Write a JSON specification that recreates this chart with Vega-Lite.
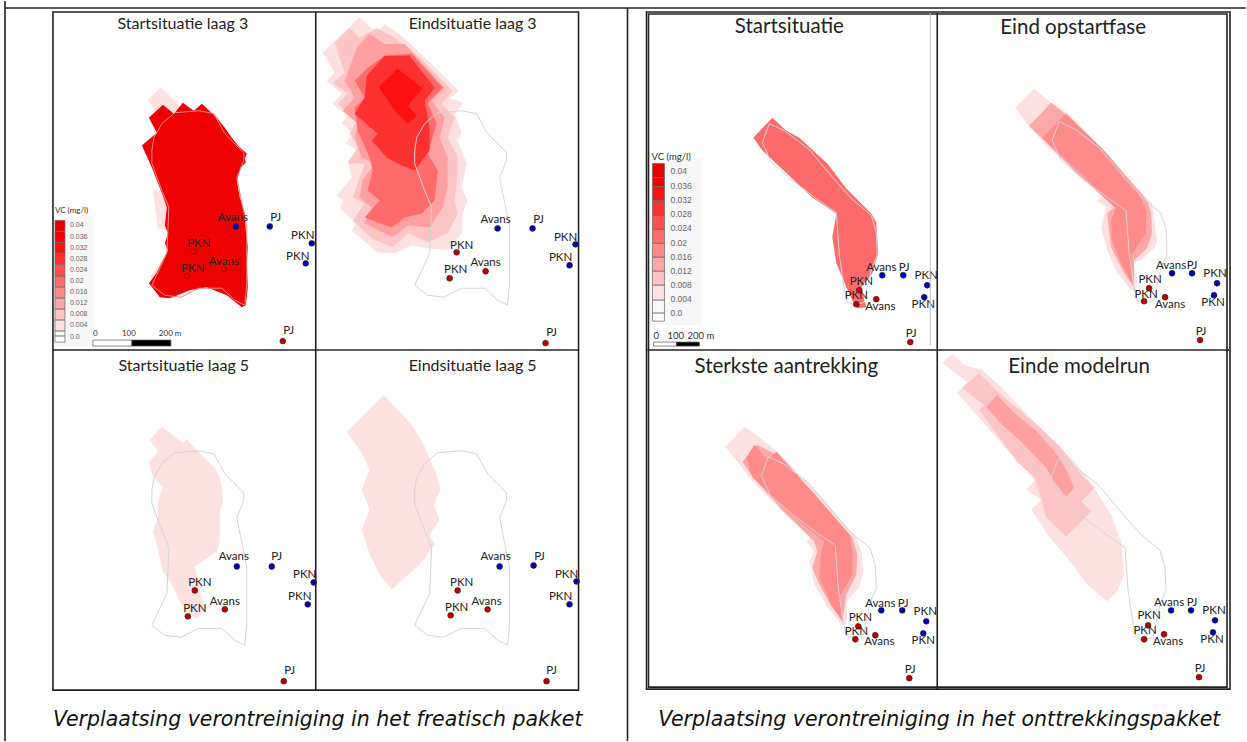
{"$schema":"https://vega.github.io/schema/vega-lite/v6.json","width":1247,"height":742,"autosize":{"type":"fit","contains":"padding"},"padding":0,"background":"white","config":{"view":{"stroke":null}},"resolve":{"scale":{"fill":"independent"}},
"encoding":{"x":{"field":"x","type":"quantitative","scale":{"domain":[0,1247],"nice":false,"zero":false},"axis":null},"y":{"field":"y","type":"quantitative","scale":{"domain":[742,0],"nice":false,"zero":false},"axis":null}},
"datasets":{
"c1":[{"g":"a","x":148,"y":99},{"g":"a","x":161,"y":87},{"g":"a","x":172,"y":97},{"g":"a","x":182,"y":107},{"g":"a","x":160,"y":117},{"g":"b","x":153,"y":190},{"g":"b","x":165,"y":190},{"g":"b","x":170,"y":230},{"g":"b","x":158,"y":228},{"g":"b2","x":150,"y":277},{"g":"b2","x":166,"y":255},{"g":"b2","x":166,"y":280},
{"g":"c","x":360,"y":16},{"g":"c","x":377,"y":32},{"g":"c","x":385,"y":23},{"g":"c","x":402,"y":35},{"g":"c","x":415,"y":47},{"g":"c","x":459,"y":90},{"g":"c","x":450,"y":98},{"g":"c","x":464,"y":102},{"g":"c","x":455,"y":113},{"g":"c","x":462,"y":132},{"g":"c","x":458,"y":140},{"g":"c","x":467,"y":163},{"g":"c","x":462,"y":187},{"g":"c","x":468,"y":200},{"g":"c","x":463,"y":213},{"g":"c","x":462,"y":233},{"g":"c","x":448,"y":250},{"g":"c","x":428,"y":248},{"g":"c","x":412,"y":245},{"g":"c","x":395,"y":253},{"g":"c","x":378,"y":252},{"g":"c","x":352,"y":230},{"g":"c","x":357,"y":222},{"g":"c","x":340,"y":208},{"g":"c","x":343,"y":200},{"g":"c","x":337,"y":195},{"g":"c","x":352,"y":177},{"g":"c","x":348,"y":160},{"g":"c","x":358,"y":150},{"g":"c","x":346,"y":143},{"g":"c","x":353,"y":133},{"g":"c","x":342,"y":122},{"g":"c","x":348,"y":115},{"g":"c","x":333,"y":103},{"g":"c","x":342,"y":93},{"g":"c","x":327,"y":80},{"g":"c","x":335,"y":72},{"g":"c","x":323,"y":52},{"g":"c","x":335,"y":40},
{"g":"d","x":150,"y":440},{"g":"d","x":162,"y":427},{"g":"d","x":183,"y":443},{"g":"d","x":187,"y":440},{"g":"d","x":216,"y":470},{"g":"d","x":220,"y":478},{"g":"d","x":222,"y":488},{"g":"d","x":223,"y":502},{"g":"d","x":220,"y":512},{"g":"d","x":220,"y":542},{"g":"d","x":217,"y":552},{"g":"d","x":195,"y":567},{"g":"d","x":203,"y":603},{"g":"d","x":205,"y":610},{"g":"d","x":197,"y":620},{"g":"d","x":187,"y":612},{"g":"d","x":180,"y":602},{"g":"d","x":172,"y":585},{"g":"d","x":163,"y":572},{"g":"d","x":157,"y":545},{"g":"d","x":153,"y":532},{"g":"d","x":158,"y":518},{"g":"d","x":158,"y":502},{"g":"d","x":163,"y":488},{"g":"d","x":152,"y":475},{"g":"d","x":149,"y":462},{"g":"d","x":158,"y":452},
{"g":"e","x":347,"y":432},{"g":"e","x":384,"y":395},{"g":"e","x":412,"y":425},{"g":"e","x":424,"y":445},{"g":"e","x":435,"y":470},{"g":"e","x":441,"y":490},{"g":"e","x":434,"y":505},{"g":"e","x":440,"y":520},{"g":"e","x":430,"y":535},{"g":"e","x":435,"y":545},{"g":"e","x":420,"y":565},{"g":"e","x":392,"y":590},{"g":"e","x":380,"y":575},{"g":"e","x":370,"y":555},{"g":"e","x":362,"y":530},{"g":"e","x":370,"y":510},{"g":"e","x":362,"y":490},{"g":"e","x":370,"y":470},{"g":"e","x":360,"y":450},
{"g":"f","x":1035,"y":88},{"g":"f","x":1052,"y":102},{"g":"f","x":1068,"y":112},{"g":"f","x":1102,"y":147},{"g":"f","x":1122,"y":170},{"g":"f","x":1153,"y":203},{"g":"f","x":1155,"y":217},{"g":"f","x":1158,"y":240},{"g":"f","x":1155,"y":248},{"g":"f","x":1142,"y":260},{"g":"f","x":1133,"y":263},{"g":"f","x":1138,"y":277},{"g":"f","x":1137,"y":292},{"g":"f","x":1132,"y":290},{"g":"f","x":1118,"y":272},{"g":"f","x":1108,"y":250},{"g":"f","x":1102,"y":227},{"g":"f","x":1107,"y":207},{"g":"f","x":1098,"y":200},{"g":"f","x":1105,"y":195},{"g":"f","x":1082,"y":177},{"g":"f","x":1045,"y":143},{"g":"f","x":1029,"y":125},{"g":"f","x":1016,"y":107},
{"g":"h","x":745,"y":427},{"g":"h","x":762,"y":439},{"g":"h","x":778,"y":452},{"g":"h","x":820,"y":495},{"g":"h","x":857,"y":538},{"g":"h","x":862,"y":552},{"g":"h","x":864,"y":572},{"g":"h","x":860,"y":588},{"g":"h","x":847,"y":602},{"g":"h","x":848,"y":612},{"g":"h","x":847,"y":625},{"g":"h","x":842,"y":625},{"g":"h","x":828,"y":608},{"g":"h","x":815,"y":585},{"g":"h","x":810,"y":562},{"g":"h","x":815,"y":552},{"g":"h","x":807,"y":542},{"g":"h","x":813,"y":535},{"g":"h","x":783,"y":512},{"g":"h","x":750,"y":478},{"g":"h","x":738,"y":462},{"g":"h","x":726,"y":447},
{"g":"i","x":953,"y":354},{"g":"i","x":965,"y":365},{"g":"i","x":983,"y":370},{"g":"i","x":1003,"y":388},{"g":"i","x":1038,"y":425},{"g":"i","x":1078,"y":465},{"g":"i","x":1095,"y":488},{"g":"i","x":1112,"y":515},{"g":"i","x":1122,"y":542},{"g":"i","x":1125,"y":575},{"g":"i","x":1118,"y":592},{"g":"i","x":1108,"y":602},{"g":"i","x":1088,"y":585},{"g":"i","x":1068,"y":558},{"g":"i","x":1048,"y":535},{"g":"i","x":1042,"y":525},{"g":"i","x":1032,"y":510},{"g":"i","x":1042,"y":500},{"g":"i","x":1027,"y":490},{"g":"i","x":1038,"y":478},{"g":"i","x":1023,"y":467},{"g":"i","x":958,"y":393},{"g":"i","x":968,"y":382},{"g":"i","x":943,"y":363}],
"c2":[{"g":"a","x":350,"y":27},{"g":"a","x":360,"y":37},{"g":"a","x":377,"y":27},{"g":"a","x":395,"y":37},{"g":"a","x":415,"y":52},{"g":"a","x":453,"y":90},{"g":"a","x":442,"y":103},{"g":"a","x":455,"y":117},{"g":"a","x":448,"y":137},{"g":"a","x":458,"y":157},{"g":"a","x":458,"y":173},{"g":"a","x":455,"y":200},{"g":"a","x":458,"y":213},{"g":"a","x":448,"y":233},{"g":"a","x":428,"y":242},{"g":"a","x":408,"y":233},{"g":"a","x":393,"y":247},{"g":"a","x":372,"y":238},{"g":"a","x":353,"y":220},{"g":"a","x":365,"y":203},{"g":"a","x":353,"y":197},{"g":"a","x":365,"y":163},{"g":"a","x":348,"y":163},{"g":"a","x":358,"y":147},{"g":"a","x":350,"y":133},{"g":"a","x":357,"y":120},{"g":"a","x":338,"y":103},{"g":"a","x":348,"y":93},{"g":"a","x":333,"y":82},{"g":"a","x":345,"y":72},{"g":"a","x":335,"y":42},
{"g":"b","x":963,"y":388},{"g":"b","x":980,"y":373},{"g":"b","x":1002,"y":395},{"g":"b","x":1038,"y":425},{"g":"b","x":1062,"y":448},{"g":"b","x":1082,"y":475},{"g":"b","x":1095,"y":488},{"g":"b","x":1082,"y":502},{"g":"b","x":1092,"y":512},{"g":"b","x":1067,"y":537},{"g":"b","x":1047,"y":518},{"g":"b","x":1042,"y":498},{"g":"b","x":1035,"y":478},{"g":"b","x":1018,"y":462},{"g":"b","x":980,"y":410},{"g":"b","x":985,"y":405}],
"c3":[{"g":"a","x":357,"y":47},{"g":"a","x":370,"y":33},{"g":"a","x":385,"y":43},{"g":"a","x":405,"y":43},{"g":"a","x":445,"y":87},{"g":"a","x":432,"y":100},{"g":"a","x":445,"y":117},{"g":"a","x":440,"y":137},{"g":"a","x":448,"y":157},{"g":"a","x":448,"y":187},{"g":"a","x":443,"y":207},{"g":"a","x":430,"y":227},{"g":"a","x":408,"y":225},{"g":"a","x":393,"y":237},{"g":"a","x":365,"y":223},{"g":"a","x":372,"y":207},{"g":"a","x":360,"y":197},{"g":"a","x":363,"y":180},{"g":"a","x":375,"y":163},{"g":"a","x":362,"y":157},{"g":"a","x":355,"y":137},{"g":"a","x":358,"y":123},{"g":"a","x":343,"y":110},{"g":"a","x":355,"y":97},{"g":"a","x":345,"y":80},
{"g":"b","x":987,"y":407},{"g":"b","x":998,"y":395},{"g":"b","x":1015,"y":413},{"g":"b","x":1038,"y":432},{"g":"b","x":1058,"y":455},{"g":"b","x":1068,"y":472},{"g":"b","x":1075,"y":488},{"g":"b","x":1067,"y":497},{"g":"b","x":1055,"y":482},{"g":"b","x":1047,"y":468},{"g":"b","x":1022,"y":442},{"g":"b","x":1003,"y":425}],
"c4":[{"g":"a","x":1052,"y":102},{"g":"a","x":1068,"y":115},{"g":"a","x":1108,"y":153},{"g":"a","x":1148,"y":200},{"g":"a","x":1152,"y":213},{"g":"a","x":1153,"y":233},{"g":"a","x":1148,"y":248},{"g":"a","x":1135,"y":260},{"g":"a","x":1135,"y":273},{"g":"a","x":1135,"y":287},{"g":"a","x":1125,"y":273},{"g":"a","x":1112,"y":247},{"g":"a","x":1110,"y":230},{"g":"a","x":1108,"y":213},{"g":"a","x":1115,"y":207},{"g":"a","x":1108,"y":200},{"g":"a","x":1082,"y":177},{"g":"a","x":1045,"y":140},{"g":"a","x":1030,"y":125},
{"g":"b","x":758,"y":445},{"g":"b","x":777,"y":455},{"g":"b","x":817,"y":497},{"g":"b","x":853,"y":538},{"g":"b","x":858,"y":555},{"g":"b","x":857,"y":575},{"g":"b","x":847,"y":595},{"g":"b","x":843,"y":622},{"g":"b","x":832,"y":607},{"g":"b","x":820,"y":585},{"g":"b","x":813,"y":568},{"g":"b","x":818,"y":552},{"g":"b","x":815,"y":542},{"g":"b","x":787,"y":515},{"g":"b","x":753,"y":477},{"g":"b","x":743,"y":462}],
"c5":[{"g":"a","x":1067,"y":113},{"g":"a","x":1102,"y":147},{"g":"a","x":1142,"y":197},{"g":"a","x":1147,"y":210},{"g":"a","x":1147,"y":233},{"g":"a","x":1132,"y":255},{"g":"a","x":1133,"y":283},{"g":"a","x":1122,"y":263},{"g":"a","x":1113,"y":240},{"g":"a","x":1112,"y":220},{"g":"a","x":1117,"y":207},{"g":"a","x":1105,"y":197},{"g":"a","x":1082,"y":173},{"g":"a","x":1043,"y":137},
{"g":"b","x":755,"y":445},{"g":"b","x":768,"y":460},{"g":"b","x":777,"y":452},{"g":"b","x":813,"y":492},{"g":"b","x":850,"y":535},{"g":"b","x":853,"y":552},{"g":"b","x":853,"y":575},{"g":"b","x":840,"y":598},{"g":"b","x":843,"y":622},{"g":"b","x":832,"y":605},{"g":"b","x":820,"y":578},{"g":"b","x":822,"y":552},{"g":"b","x":825,"y":542},{"g":"b","x":788,"y":512},{"g":"b","x":753,"y":477},{"g":"b","x":747,"y":458}],
"c6":[{"g":"a","x":368,"y":67},{"g":"a","x":385,"y":55},{"g":"a","x":412,"y":53},{"g":"a","x":443,"y":87},{"g":"a","x":428,"y":102},{"g":"a","x":437,"y":123},{"g":"a","x":428,"y":153},{"g":"a","x":438,"y":170},{"g":"a","x":435,"y":200},{"g":"a","x":422,"y":213},{"g":"a","x":405,"y":217},{"g":"a","x":392,"y":227},{"g":"a","x":365,"y":217},{"g":"a","x":380,"y":200},{"g":"a","x":368,"y":190},{"g":"a","x":373,"y":170},{"g":"a","x":370,"y":157},{"g":"a","x":358,"y":130},{"g":"a","x":355,"y":107},{"g":"a","x":365,"y":97},{"g":"a","x":355,"y":80},
{"g":"b","x":754,"y":137},{"g":"b","x":773,"y":117},{"g":"b","x":787,"y":130},{"g":"b","x":800,"y":137},{"g":"b","x":828,"y":163},{"g":"b","x":847,"y":188},{"g":"b","x":872,"y":213},{"g":"b","x":877,"y":222},{"g":"b","x":879,"y":253},{"g":"b","x":873,"y":273},{"g":"b","x":862,"y":287},{"g":"b","x":867,"y":307},{"g":"b","x":858,"y":308},{"g":"b","x":853,"y":300},{"g":"b","x":847,"y":287},{"g":"b","x":837,"y":263},{"g":"b","x":833,"y":237},{"g":"b","x":837,"y":213},{"g":"b","x":813,"y":197},{"g":"b","x":763,"y":150}],
"c7":[{"g":"a","x":367,"y":75},{"g":"a","x":385,"y":55},{"g":"a","x":410,"y":55},{"g":"a","x":435,"y":87},{"g":"a","x":425,"y":100},{"g":"a","x":430,"y":128},{"g":"a","x":430,"y":150},{"g":"a","x":415,"y":170},{"g":"a","x":402,"y":165},{"g":"a","x":387,"y":157},{"g":"a","x":372,"y":140},{"g":"a","x":378,"y":133},{"g":"a","x":355,"y":113},{"g":"a","x":365,"y":97}],
"c8":[{"g":"a","x":379,"y":86},{"g":"a","x":398,"y":68},{"g":"a","x":423,"y":88},{"g":"a","x":408,"y":105},{"g":"a","x":417,"y":115},{"g":"a","x":408,"y":123},{"g":"a","x":395,"y":110}],
"c9":[{"g":"a","x":149,"y":117},{"g":"a","x":163,"y":104},{"g":"a","x":174,"y":113},{"g":"a","x":183,"y":102},{"g":"a","x":194,"y":110},{"g":"a","x":202,"y":103},{"g":"a","x":217,"y":117},{"g":"a","x":225,"y":127},{"g":"a","x":232,"y":137},{"g":"a","x":239,"y":146},{"g":"a","x":247,"y":153},{"g":"a","x":245,"y":158},{"g":"a","x":246,"y":162},{"g":"a","x":241,"y":167},{"g":"a","x":239,"y":174},{"g":"a","x":237,"y":180},{"g":"a","x":240,"y":197},{"g":"a","x":245,"y":213},{"g":"a","x":246,"y":230},{"g":"a","x":248,"y":247},{"g":"a","x":247,"y":262},{"g":"a","x":248,"y":287},{"g":"a","x":246,"y":305},{"g":"a","x":242,"y":307},{"g":"a","x":227,"y":295},{"g":"a","x":207,"y":287},{"g":"a","x":190,"y":290},{"g":"a","x":170,"y":298},{"g":"a","x":160,"y":297},{"g":"a","x":149,"y":283},{"g":"a","x":157,"y":272},{"g":"a","x":163,"y":260},{"g":"a","x":168,"y":250},{"g":"a","x":165,"y":243},{"g":"a","x":168,"y":233},{"g":"a","x":165,"y":225},{"g":"a","x":167,"y":207},{"g":"a","x":163,"y":195},{"g":"a","x":157,"y":180},{"g":"a","x":152,"y":167},{"g":"a","x":142,"y":145},{"g":"a","x":157,"y":132}],
"outline":[{"g":"2","x":415,"y":150},{"g":"2","x":417,"y":137},{"g":"2","x":425,"y":123},{"g":"2","x":438,"y":112},{"g":"2","x":462,"y":110},{"g":"2","x":477,"y":113},{"g":"2","x":488,"y":133},{"g":"2","x":507,"y":152},{"g":"2","x":507,"y":160},{"g":"2","x":500,"y":177},{"g":"2","x":510,"y":227},{"g":"2","x":510,"y":283},{"g":"2","x":508,"y":305},{"g":"2","x":498,"y":300},{"g":"2","x":485,"y":288},{"g":"2","x":462,"y":288},{"g":"2","x":444,"y":297},{"g":"2","x":428,"y":295},{"g":"2","x":415,"y":285},{"g":"2","x":430,"y":253},{"g":"2","x":432,"y":207},{"g":"2","x":425,"y":190},{"g":"2","x":415,"y":163},{"g":"2","x":415,"y":150},
{"g":"3","x":152,"y":491},{"g":"3","x":154,"y":478},{"g":"3","x":162,"y":464},{"g":"3","x":175,"y":453},{"g":"3","x":199,"y":451},{"g":"3","x":214,"y":454},{"g":"3","x":225,"y":474},{"g":"3","x":244,"y":493},{"g":"3","x":244,"y":501},{"g":"3","x":237,"y":518},{"g":"3","x":247,"y":568},{"g":"3","x":247,"y":624},{"g":"3","x":245,"y":646},{"g":"3","x":235,"y":641},{"g":"3","x":222,"y":629},{"g":"3","x":199,"y":629},{"g":"3","x":181,"y":638},{"g":"3","x":165,"y":636},{"g":"3","x":152,"y":626},{"g":"3","x":167,"y":594},{"g":"3","x":169,"y":548},{"g":"3","x":162,"y":531},{"g":"3","x":152,"y":504},{"g":"3","x":152,"y":491},
{"g":"4","x":415,"y":491},{"g":"4","x":417,"y":478},{"g":"4","x":425,"y":464},{"g":"4","x":438,"y":453},{"g":"4","x":462,"y":451},{"g":"4","x":477,"y":454},{"g":"4","x":488,"y":474},{"g":"4","x":507,"y":493},{"g":"4","x":507,"y":501},{"g":"4","x":500,"y":518},{"g":"4","x":510,"y":568},{"g":"4","x":510,"y":624},{"g":"4","x":508,"y":646},{"g":"4","x":498,"y":641},{"g":"4","x":485,"y":629},{"g":"4","x":462,"y":629},{"g":"4","x":444,"y":638},{"g":"4","x":428,"y":636},{"g":"4","x":415,"y":626},{"g":"4","x":430,"y":594},{"g":"4","x":432,"y":548},{"g":"4","x":425,"y":531},{"g":"4","x":415,"y":504},{"g":"4","x":415,"y":491},
{"g":"6","x":1053,"y":140},{"g":"6","x":1060,"y":121},{"g":"6","x":1075,"y":128},{"g":"6","x":1100,"y":147},{"g":"6","x":1125,"y":177},{"g":"6","x":1143,"y":197},{"g":"6","x":1162,"y":213},{"g":"6","x":1167,"y":230},{"g":"6","x":1168,"y":253},{"g":"6","x":1162,"y":267},{"g":"6","x":1158,"y":285},{"g":"6","x":1155,"y":300},{"g":"6","x":1145,"y":303},{"g":"6","x":1138,"y":300},{"g":"6","x":1135,"y":287},{"g":"6","x":1130,"y":253},{"g":"6","x":1127,"y":210},{"g":"6","x":1108,"y":197},{"g":"6","x":1082,"y":177},{"g":"6","x":1062,"y":160},{"g":"6","x":1053,"y":140},
{"g":"5","x":763,"y":142},{"g":"5","x":770,"y":123},{"g":"5","x":785,"y":130},{"g":"5","x":810,"y":149},{"g":"5","x":835,"y":179},{"g":"5","x":853,"y":199},{"g":"5","x":872,"y":215},{"g":"5","x":877,"y":232},{"g":"5","x":878,"y":255},{"g":"5","x":872,"y":269},{"g":"5","x":868,"y":287},{"g":"5","x":865,"y":302},{"g":"5","x":855,"y":305},{"g":"5","x":848,"y":302},{"g":"5","x":845,"y":289},{"g":"5","x":840,"y":255},{"g":"5","x":837,"y":212},{"g":"5","x":818,"y":199},{"g":"5","x":792,"y":179},{"g":"5","x":772,"y":162},{"g":"5","x":763,"y":142},
{"g":"7","x":762,"y":476},{"g":"7","x":769,"y":457},{"g":"7","x":784,"y":464},{"g":"7","x":809,"y":483},{"g":"7","x":834,"y":513},{"g":"7","x":852,"y":533},{"g":"7","x":871,"y":549},{"g":"7","x":876,"y":566},{"g":"7","x":877,"y":589},{"g":"7","x":871,"y":603},{"g":"7","x":867,"y":621},{"g":"7","x":864,"y":636},{"g":"7","x":854,"y":639},{"g":"7","x":847,"y":636},{"g":"7","x":844,"y":623},{"g":"7","x":839,"y":589},{"g":"7","x":836,"y":546},{"g":"7","x":817,"y":533},{"g":"7","x":791,"y":513},{"g":"7","x":771,"y":496},{"g":"7","x":762,"y":476},
{"g":"8","x":1052,"y":478},{"g":"8","x":1059,"y":459},{"g":"8","x":1074,"y":466},{"g":"8","x":1099,"y":485},{"g":"8","x":1124,"y":515},{"g":"8","x":1142,"y":535},{"g":"8","x":1161,"y":551},{"g":"8","x":1166,"y":568},{"g":"8","x":1167,"y":591},{"g":"8","x":1161,"y":605},{"g":"8","x":1157,"y":623},{"g":"8","x":1154,"y":638},{"g":"8","x":1144,"y":641},{"g":"8","x":1137,"y":638},{"g":"8","x":1134,"y":625},{"g":"8","x":1129,"y":591},{"g":"8","x":1126,"y":548},{"g":"8","x":1107,"y":535},{"g":"8","x":1081,"y":515},{"g":"8","x":1061,"y":498},{"g":"8","x":1052,"y":478}],
"outline1":[{"g":"1","x":152,"y":150},{"g":"1","x":154,"y":137},{"g":"1","x":162,"y":123},{"g":"1","x":175,"y":112},{"g":"1","x":199,"y":110},{"g":"1","x":214,"y":113},{"g":"1","x":225,"y":133},{"g":"1","x":244,"y":152},{"g":"1","x":244,"y":160},{"g":"1","x":237,"y":177},{"g":"1","x":247,"y":227},{"g":"1","x":247,"y":283},{"g":"1","x":245,"y":305},{"g":"1","x":235,"y":300},{"g":"1","x":222,"y":288},{"g":"1","x":199,"y":288},{"g":"1","x":181,"y":297},{"g":"1","x":165,"y":295},{"g":"1","x":152,"y":285},{"g":"1","x":167,"y":253},{"g":"1","x":169,"y":207},{"g":"1","x":162,"y":190},{"g":"1","x":152,"y":163},{"g":"1","x":152,"y":150}]
},
"layer":[
{"data":{"name":"c1"},"transform":[{"window":[{"op":"row_number","as":"i"}]}],"mark":{"type":"line","fill":"#fde0e0","strokeWidth":0},"encoding":{"detail":{"field":"g"},"order":{"field":"i","type":"quantitative"}}},
{"data":{"name":"c2"},"transform":[{"window":[{"op":"row_number","as":"i"}]}],"mark":{"type":"line","fill":"#fcc4c4","strokeWidth":0},"encoding":{"detail":{"field":"g"},"order":{"field":"i","type":"quantitative"}}},
{"data":{"name":"c3"},"transform":[{"window":[{"op":"row_number","as":"i"}]}],"mark":{"type":"line","fill":"#ff9f9f","strokeWidth":0},"encoding":{"detail":{"field":"g"},"order":{"field":"i","type":"quantitative"}}},
{"data":{"name":"c4"},"transform":[{"window":[{"op":"row_number","as":"i"}]}],"mark":{"type":"line","fill":"#fca8a8","strokeWidth":0},"encoding":{"detail":{"field":"g"},"order":{"field":"i","type":"quantitative"}}},
{"data":{"name":"c5"},"transform":[{"window":[{"op":"row_number","as":"i"}]}],"mark":{"type":"line","fill":"#ff8a8a","strokeWidth":0},"encoding":{"detail":{"field":"g"},"order":{"field":"i","type":"quantitative"}}},
{"data":{"name":"c6"},"transform":[{"window":[{"op":"row_number","as":"i"}]}],"mark":{"type":"line","fill":"#ff6b6b","strokeWidth":0},"encoding":{"detail":{"field":"g"},"order":{"field":"i","type":"quantitative"}}},
{"data":{"name":"c7"},"transform":[{"window":[{"op":"row_number","as":"i"}]}],"mark":{"type":"line","fill":"#ff3030","strokeWidth":0},"encoding":{"detail":{"field":"g"},"order":{"field":"i","type":"quantitative"}}},
{"data":{"name":"c8"},"transform":[{"window":[{"op":"row_number","as":"i"}]}],"mark":{"type":"line","fill":"#ff1010","strokeWidth":0},"encoding":{"detail":{"field":"g"},"order":{"field":"i","type":"quantitative"}}},
{"data":{"name":"c9"},"transform":[{"window":[{"op":"row_number","as":"i"}]}],"mark":{"type":"line","fill":"#ee0000","strokeWidth":0},"encoding":{"detail":{"field":"g"},"order":{"field":"i","type":"quantitative"}}},
{"data":{"name":"outline"},"transform":[{"window":[{"op":"row_number","as":"i"}]}],"mark":{"type":"line","stroke":"#d4d4d4","strokeWidth":1},"encoding":{"detail":{"field":"g"},"order":{"field":"i","type":"quantitative"}}},
{"data":{"name":"outline1"},"transform":[{"window":[{"op":"row_number","as":"i"}]}],"mark":{"type":"line","stroke":"#e88a8a","strokeWidth":1},"encoding":{"detail":{"field":"g"},"order":{"field":"i","type":"quantitative"}}},
{"data":{"values":[{"x":55,"x2":94,"y":216,"y2":347},{"x":650,"x2":702,"y":158,"y2":325}]},"mark":{"type":"rect","fill":"#f7f7f7"},"encoding":{"x2":{"field":"x2"},"y2":{"field":"y2"}}},
{"data":{"values":[{"x":55,"x2":65,"y":220,"y2":231,"v":"0.04"},{"x":55,"x2":65,"y":231,"y2":242,"v":"0.036"},{"x":55,"x2":65,"y":242,"y2":253,"v":"0.032"},{"x":55,"x2":65,"y":253,"y2":264,"v":"0.028"},{"x":55,"x2":65,"y":264,"y2":276,"v":"0.024"},{"x":55,"x2":65,"y":276,"y2":287,"v":"0.02"},{"x":55,"x2":65,"y":287,"y2":298,"v":"0.016"},{"x":55,"x2":65,"y":298,"y2":309,"v":"0.012"},{"x":55,"x2":65,"y":309,"y2":320,"v":"0.008"},{"x":55,"x2":65,"y":320,"y2":331,"v":"0.004"},{"x":55,"x2":65,"y":331,"y2":336,"v":"0.002"},{"x":55,"x2":65,"y":336,"y2":342,"v":"0.0"},
{"x":653,"x2":665,"y":163,"y2":177,"v":"0.04"},{"x":653,"x2":665,"y":177,"y2":186,"v":"0.036"},{"x":653,"x2":665,"y":186,"y2":200,"v":"0.032"},{"x":653,"x2":665,"y":200,"y2":215,"v":"0.028"},{"x":653,"x2":665,"y":215,"y2":229,"v":"0.024"},{"x":653,"x2":665,"y":229,"y2":243,"v":"0.02"},{"x":653,"x2":665,"y":243,"y2":257,"v":"0.016"},{"x":653,"x2":665,"y":257,"y2":271,"v":"0.012"},{"x":653,"x2":665,"y":271,"y2":285,"v":"0.008"},{"x":653,"x2":665,"y":285,"y2":300,"v":"0.004"},{"x":653,"x2":665,"y":300,"y2":313,"v":"0.002"},{"x":653,"x2":665,"y":313,"y2":321,"v":"0.0"}]},
"mark":{"type":"rect","stroke":"#666","strokeWidth":0.7},"encoding":{"x2":{"field":"x2"},"y2":{"field":"y2"},"fill":{"field":"v","type":"nominal","legend":null,"scale":{"domain":["0.04","0.036","0.032","0.028","0.024","0.02","0.016","0.012","0.008","0.004","0.002","0.0"],"range":["#e80000","#f00000","#ff1010","#ff3030","#ff4f4f","#ff6b6b","#ff8a8a","#ffa5a5","#fcc5c5","#fde0e0","#f8f8f8","#ffffff"]}}}},
{"data":{"values":[{"x":93,"x2":132,"y":340,"y2":346,"k":"w"},{"x":132,"x2":171,"y":340,"y2":346,"k":"b"},{"x":654,"x2":677,"y":342,"y2":346,"k":"w"},{"x":677,"x2":700,"y":342,"y2":346,"k":"b"}]},"mark":{"type":"rect","stroke":"#555","strokeWidth":0.7},"encoding":{"x2":{"field":"x2"},"y2":{"field":"y2"},"fill":{"field":"k","type":"nominal","legend":null,"scale":{"domain":["w","b"],"range":["#ffffff","#000000"]}}}},
{"data":{"values":[{"x":236,"y":226,"s":"b"},{"x":270,"y":226,"s":"b"},{"x":312,"y":243,"s":"b"},{"x":306,"y":263,"s":"b"},{"x":283,"y":341,"s":"r"},{"x":498,"y":228,"s":"b"},{"x":533,"y":228,"s":"b"},{"x":576,"y":244,"s":"b"},{"x":570,"y":265,"s":"b"},{"x":457,"y":252,"s":"r"},{"x":486,"y":271,"s":"r"},{"x":450,"y":278,"s":"r"},{"x":546,"y":343,"s":"r"},{"x":237,"y":567,"s":"b"},{"x":272,"y":567,"s":"b"},{"x":314,"y":583,"s":"b"},{"x":308,"y":605,"s":"b"},{"x":195,"y":591,"s":"r"},{"x":225,"y":610,"s":"r"},{"x":188,"y":617,"s":"r"},{"x":284,"y":682,"s":"r"},{"x":500,"y":567,"s":"b"},{"x":534,"y":566,"s":"b"},{"x":577,"y":582,"s":"b"},{"x":570,"y":605,"s":"b"},{"x":458,"y":591,"s":"r"},{"x":488,"y":610,"s":"r"},{"x":451,"y":616,"s":"r"},{"x":547,"y":682,"s":"r"},{"x":883,"y":275,"s":"b"},{"x":904,"y":275,"s":"b"},{"x":928,"y":285,"s":"b"},{"x":925,"y":297,"s":"b"},{"x":860,"y":290,"s":"r"},{"x":877,"y":299,"s":"r"},{"x":857,"y":304,"s":"r"},{"x":911,"y":342,"s":"r"},{"x":1173,"y":273,"s":"b"},{"x":1193,"y":273,"s":"b"},{"x":1218,"y":283,"s":"b"},{"x":1215,"y":295,"s":"b"},{"x":1150,"y":288,"s":"r"},{"x":1166,"y":297,"s":"r"},{"x":1145,"y":301,"s":"r"},{"x":1201,"y":340,"s":"r"},{"x":882,"y":611,"s":"b"},{"x":903,"y":611,"s":"b"},{"x":927,"y":622,"s":"b"},{"x":924,"y":634,"s":"b"},{"x":859,"y":627,"s":"r"},{"x":876,"y":636,"s":"r"},{"x":856,"y":640,"s":"r"},{"x":910,"y":679,"s":"r"},{"x":1172,"y":611,"s":"b"},{"x":1192,"y":611,"s":"b"},{"x":1216,"y":621,"s":"b"},{"x":1214,"y":633,"s":"b"},{"x":1149,"y":626,"s":"r"},{"x":1165,"y":635,"s":"r"},{"x":1145,"y":640,"s":"r"},{"x":1200,"y":678,"s":"r"}]},
"mark":{"type":"point","filled":true,"size":34,"stroke":"#222","strokeWidth":0.6,"opacity":1},"encoding":{"fill":{"field":"s","type":"nominal","legend":null,"scale":{"domain":["b","r"],"range":["#0000b4","#c00000"]}}}},
{"data":{"values":[{"x":194,"y":251},{"x":224,"y":269},{"x":187,"y":276}]},"mark":{"type":"point","filled":false,"size":26,"stroke":"#a00000","strokeWidth":1,"opacity":1}},
{"data":{"values":[{"x":233,"y":218,"t":"Avans"},{"x":276,"y":218,"t":"PJ"},{"x":303,"y":236,"t":"PKN"},{"x":298,"y":257,"t":"PKN"},{"x":199,"y":244,"t":"PKN"},{"x":224,"y":262,"t":"Avans"},{"x":193,"y":269,"t":"PKN"},{"x":289,"y":331,"t":"PJ"},{"x":496,"y":220,"t":"Avans"},{"x":539,"y":220,"t":"PJ"},{"x":566,"y":238,"t":"PKN"},{"x":561,"y":258,"t":"PKN"},{"x":462,"y":246,"t":"PKN"},{"x":486,"y":263,"t":"Avans"},{"x":456,"y":270,"t":"PKN"},{"x":552,"y":333,"t":"PJ"},{"x":234,"y":558,"t":"Avans"},{"x":277,"y":558,"t":"PJ"},{"x":305,"y":576,"t":"PKN"},{"x":300,"y":598,"t":"PKN"},{"x":200,"y":584,"t":"PKN"},{"x":225,"y":603,"t":"Avans"},{"x":195,"y":610,"t":"PKN"},{"x":290,"y":672,"t":"PJ"},{"x":496,"y":558,"t":"Avans"},{"x":540,"y":558,"t":"PJ"},{"x":567,"y":576,"t":"PKN"},{"x":561,"y":598,"t":"PKN"},{"x":462,"y":584,"t":"PKN"},{"x":487,"y":603,"t":"Avans"},{"x":457,"y":609,"t":"PKN"},{"x":552,"y":672,"t":"PJ"},{"x":882,"y":268,"t":"Avans"},{"x":905,"y":268,"t":"PJ"},{"x":927,"y":276,"t":"PKN"},{"x":924,"y":305,"t":"PKN"},{"x":862,"y":282,"t":"PKN"},{"x":857,"y":296,"t":"PKN"},{"x":881,"y":307,"t":"Avans"},{"x":912,"y":334,"t":"PJ"},{"x":1172,"y":266,"t":"Avans"},{"x":1193,"y":266,"t":"PJ"},{"x":1216,"y":274,"t":"PKN"},{"x":1214,"y":303,"t":"PKN"},{"x":1151,"y":280,"t":"PKN"},{"x":1147,"y":295,"t":"PKN"},{"x":1171,"y":305,"t":"Avans"},{"x":1202,"y":332,"t":"PJ"},{"x":881,"y":605,"t":"Avans"},{"x":904,"y":605,"t":"PJ"},{"x":926,"y":613,"t":"PKN"},{"x":924,"y":642,"t":"PKN"},{"x":861,"y":619,"t":"PKN"},{"x":857,"y":633,"t":"PKN"},{"x":880,"y":643,"t":"Avans"},{"x":911,"y":671,"t":"PJ"},{"x":1170,"y":604,"t":"Avans"},{"x":1193,"y":604,"t":"PJ"},{"x":1215,"y":612,"t":"PKN"},{"x":1213,"y":641,"t":"PKN"},{"x":1150,"y":617,"t":"PKN"},{"x":1146,"y":632,"t":"PKN"},{"x":1169,"y":643,"t":"Avans"},{"x":1201,"y":670,"t":"PJ"}]},"mark":{"type":"text","font":"Lato","fontSize":11.5,"fill":"#222"},"encoding":{"text":{"field":"t"}}},
{"data":{"values":[{"x":183,"y":23,"t":"Startsituatie laag 3"},{"x":473,"y":23,"t":"Eindsituatie laag 3"},{"x":184,"y":366,"t":"Startsituatie laag 5"},{"x":473,"y":366,"t":"Eindsituatie laag 5"}]},"mark":{"type":"text","font":"Lato","fontSize":16,"fill":"#222"},"encoding":{"text":{"field":"t"}}},
{"data":{"values":[{"x":790,"y":26,"t":"Startsituatie"},{"x":1074,"y":27,"t":"Eind opstartfase"},{"x":787,"y":367,"t":"Sterkste aantrekking"},{"x":1080,"y":367,"t":"Einde modelrun"}]},"mark":{"type":"text","font":"Lato","fontSize":20.5,"fill":"#222"},"encoding":{"text":{"field":"t"}}},
{"data":{"values":[{"x":318,"y":721,"t":"Verplaatsing verontreiniging in het freatisch pakket"},{"x":940,"y":721,"t":"Verplaatsing verontreiniging in het onttrekkingspakket"}]},"mark":{"type":"text","font":"DejaVu Sans","fontStyle":"italic","fontSize":20.5,"fill":"#111"},"encoding":{"text":{"field":"t"}}},
{"data":{"values":[{"x":70,"y":225,"t":"0.04"},{"x":70,"y":237,"t":"0.036"},{"x":70,"y":248,"t":"0.032"},{"x":70,"y":259,"t":"0.028"},{"x":70,"y":270,"t":"0.024"},{"x":70,"y":281,"t":"0.02"},{"x":70,"y":292,"t":"0.016"},{"x":70,"y":303,"t":"0.012"},{"x":70,"y":314,"t":"0.008"},{"x":70,"y":325,"t":"0.004"},{"x":70,"y":337,"t":"0.0"}]},"mark":{"type":"text","align":"left","font":"Liberation Sans","fontSize":7,"fill":"#666"},"encoding":{"text":{"field":"t"}}},
{"data":{"values":[{"x":671,"y":170,"t":"0.04"},{"x":671,"y":185,"t":"0.036"},{"x":671,"y":200,"t":"0.032"},{"x":671,"y":214,"t":"0.028"},{"x":671,"y":228,"t":"0.024"},{"x":671,"y":243,"t":"0.02"},{"x":671,"y":257,"t":"0.016"},{"x":671,"y":271,"t":"0.012"},{"x":671,"y":285,"t":"0.008"},{"x":671,"y":299,"t":"0.004"},{"x":671,"y":313,"t":"0.0"}]},"mark":{"type":"text","align":"left","font":"Liberation Sans","fontSize":8.5,"fill":"#666"},"encoding":{"text":{"field":"t"}}},
{"data":{"values":[{"x":55,"y":211,"t":"VC (mg/l)"},{"x":93,"y":334,"t":"0"},{"x":122,"y":334,"t":"100"},{"x":159,"y":334,"t":"200 m"}]},"mark":{"type":"text","align":"left","font":"Lato","fontSize":8,"fill":"#333"},"encoding":{"text":{"field":"t"}}},
{"data":{"values":[{"x":652,"y":156,"t":"VC (mg/l)"},{"x":654,"y":336,"t":"0"},{"x":668,"y":336,"t":"100"},{"x":688,"y":336,"t":"200 m"}]},"mark":{"type":"text","align":"left","font":"Lato","fontSize":9.5,"fill":"#333"},"encoding":{"text":{"field":"t"}}},
{"data":{"values":[{"x":53,"x2":579,"y":11,"y2":691},{"x":647,"x2":1231,"y":11,"y2":690},{"x":649,"x2":1228,"y":13,"y2":688}]},"mark":{"type":"rect","fill":null,"stroke":"#222","strokeWidth":1.6},"encoding":{"x2":{"field":"x2"},"y2":{"field":"y2"}}},
{"data":{"values":[{"x":316,"x2":316,"y":11,"y2":691},{"x":53,"x2":579,"y":350,"y2":350},{"x":938,"x2":938,"y":12,"y2":690},{"x":648,"x2":1230,"y":350,"y2":350},{"x":5,"x2":1247,"y":7,"y2":7},{"x":5,"x2":5,"y":0,"y2":742},{"x":628,"x2":628,"y":7,"y2":742}]},"mark":{"type":"rule","stroke":"#222","strokeWidth":1.6},"encoding":{"x2":{"field":"x2"},"y2":{"field":"y2"}}},
{"data":{"values":[{"x":931,"x2":931,"y":12,"y2":345}]},"mark":{"type":"rule","stroke":"#bbb","strokeWidth":1},"encoding":{"x2":{"field":"x2"},"y2":{"field":"y2"}}}
]}
